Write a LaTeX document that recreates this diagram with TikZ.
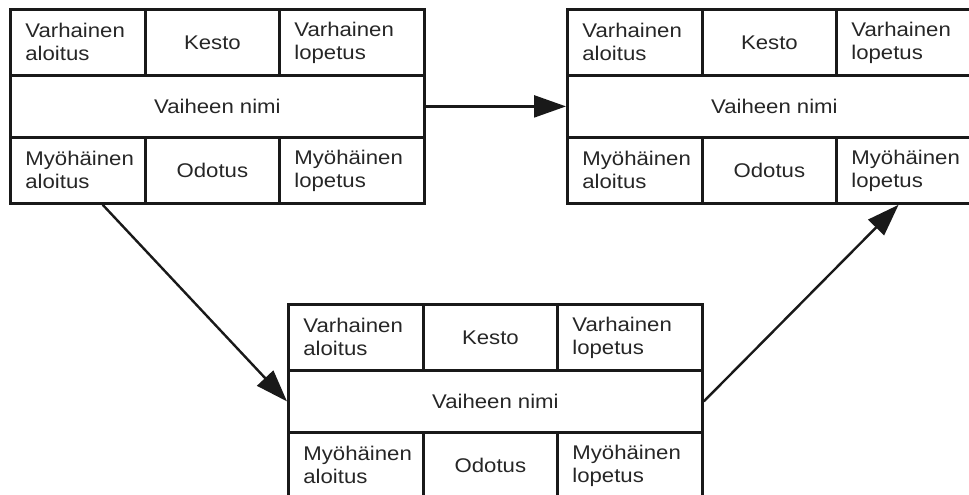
\documentclass[tikz,border=0pt]{standalone}
\usepackage{fontspec}
\setmainfont{Liberation Sans}[FakeStretch=1.12]
\usetikzlibrary{arrows.meta,calc}

\tikzset{
  cell/.style={draw=black!90, line width=2.8pt, inner sep=0pt, anchor=north west,
               text=black!85, font=\fontsize{19.8}{23}\selectfont},
  sidecell/.style={cell, align=left, inner xsep=15pt, text width=#1},
  midcell/.style={cell, align=center, minimum width=#1},
  flow/.style={draw=black!90, line width=2.4pt, -{Triangle[length=32pt,width=22pt]}}
}

\begin{document}
\begin{tikzpicture}[x=1pt, y=-1pt]
  \useasboundingbox (0,0) rectangle (969,495);
  \clip (0,0) rectangle (969,495);

  % ==== vaiheet: a = vasen, b = oikea, c = alin ====
  \foreach \n/\x/\y in {a/9/8, b/566/8, c/287/303}{
    % ylarivi
    \node[sidecell=105pt, minimum height=66pt] (\n-es) at (\x,\y) {Varhainen\\aloitus};
    \node[midcell=134pt, minimum height=66pt] (\n-kesto) at (\x+135,\y) {Kesto};
    \node[sidecell=115pt, minimum height=66pt] (\n-el) at (\x+269,\y) {Varhainen\\lopetus};
    % keskirivi
    \node[midcell=414pt, minimum height=62pt] (\n-nimi) at (\x,\y+66) {Vaiheen nimi};
    % alarivi
    \node[sidecell=105pt, minimum height=66pt] (\n-ms) at (\x,\y+128) {Myöhäinen\\aloitus};
    \node[midcell=134pt, minimum height=66pt] (\n-odotus) at (\x+135,\y+128) {Odotus};
    \node[sidecell=115pt, minimum height=66pt] (\n-ml) at (\x+269,\y+128) {Myöhäinen\\lopetus};
  }

  % ==== nuolet ====
  \draw[flow] (a-nimi.east) -- (b-nimi.west);
  \draw[flow] ($(a-ms.south west)!0.68!(a-ms.south east)$) -- (c-nimi.west);
  \draw[flow] (c-nimi.east) -- ($(b-ml.south west)!0.43!(b-ml.south east)$);
\end{tikzpicture}
\end{document}
